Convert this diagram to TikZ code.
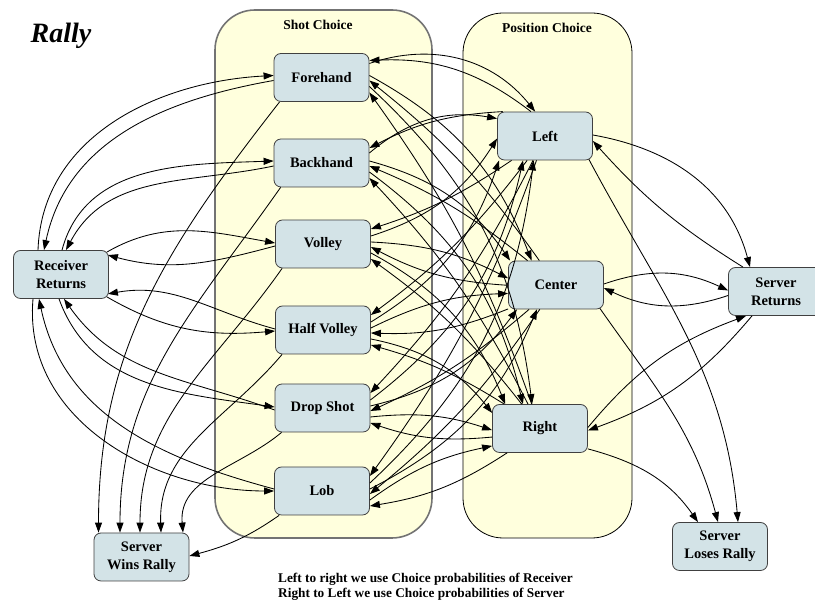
\documentclass[tikz,border=0pt]{standalone}
\usepackage{fontspec}
\setmainfont{Liberation Serif}
\usetikzlibrary{arrows.meta}
\definecolor{clusterfill}{RGB}{255,255,221}
\definecolor{statefill}{RGB}{211,227,231}
\definecolor{stateline}{RGB}{64,64,64}
\begin{document}
\begin{tikzpicture}[x=1pt,y=1pt,
  state/.style={draw=stateline, fill=statefill, line width=0.8pt, rounded corners=7pt,
    minimum width=95pt, minimum height=48pt, align=center, inner sep=2pt,
    font=\bfseries\fontsize{14.5}{18}\selectfont},
  edge/.style={-{Triangle[length=10pt,width=7pt]}, line width=0.85pt, black},
  clabel/.style={font=\bfseries\fontsize{13.5}{16}\selectfont, inner sep=0pt},
  notefont/.style={font=\bfseries\fontsize{13.3}{15}\selectfont, inner sep=0pt},
  shotbox/.style={fill=clusterfill, draw=black!55, line width=1.6pt, rounded corners=40pt},
  posbox/.style={fill=clusterfill, draw=black, line width=0.8pt, rounded corners=40pt}]
\clip (0,0) rectangle (815,604);

% clusters
\draw[shotbox] (215,66) rectangle (432,594);
\draw[posbox] (463,66) rectangle (632,591);
\node[clabel] (shotlabel) at (318,579) {Shot Choice};
\node[clabel] (poslabel) at (547,576) {Position Choice};

% title and note
\node[font=\bfseries\itshape\fontsize{28}{32}\selectfont, anchor=base, inner sep=0pt] (title) at (61,561) {Rally};
\node[notefont, anchor=base west] (note1) at (278,21) {Left to right we use Choice probabilities of Receiver};
\node[notefont, anchor=base west] (note2) at (278,6) {Right to Left we use Choice probabilities of Server};

% states
\node[state] (rr) at (61,329.5) {Receiver\\Returns};
\node[state] (fh) at (321.5,526.5) {Forehand};
\node[state] (bh) at (321.5,441) {Backhand};
\node[state] (vo) at (323,360) {Volley};
\node[state] (hv) at (323,274) {Half Volley};
\node[state] (ds) at (322.5,196) {Drop Shot};
\node[state] (lob) at (322,113) {Lob};
\node[state] (pl) at (545,468) {Left};
\node[state] (pc) at (556,319) {Center};
\node[state] (pr) at (540,175.5) {Right};
\node[state] (sr) at (776,312.5) {Server\\Returns};
\node[state] (swr) at (141.5,47) {Server\\Wins Rally};
\node[state] (slr) at (720,57.5) {Server\\Loses Rally};

% receiver returns <-> shots
\draw[edge] ([xshift=-23pt]rr.north) to[out=88,in=183] ([yshift=2pt]fh.west);
\draw[edge] ([yshift=-3pt]fh.west) to[out=190,in=78] ([xshift=-17pt]rr.north);
\draw[edge] ([xshift=1pt]rr.north) to[out=75,in=182] ([yshift=2pt]bh.west);
\draw[edge] ([yshift=-3pt]bh.west) to[out=192,in=62] ([xshift=5pt]rr.north);
\draw[edge] ([shift={(-2pt,-2pt)}]rr.north east) to[out=30,in=170] ([yshift=1pt]vo.west);
\draw[edge] ([yshift=-2pt]vo.west) to[out=195,in=-15] ([shift={(-1pt,-5pt)}]rr.north east);
\draw[edge] ([shift={(-2pt,2pt)}]rr.south east) to[out=-30,in=185] ([yshift=-1pt]hv.west);
\draw[edge] ([yshift=1pt]hv.west) to[out=165,in=10] ([shift={(-1pt,5pt)}]rr.south east);
\draw[edge] ([xshift=-2pt]rr.south) to[out=-70,in=172] ([yshift=1pt]ds.west);
\draw[edge] ([yshift=-2pt]ds.west) to[out=160,in=-55] ([xshift=3pt]rr.south);
\draw[edge] ([xshift=-28pt]rr.south) to[out=-95,in=180] (lob.west);
\draw[edge] ([yshift=2pt]lob.west) to[out=165,in=-78] ([xshift=-22pt]rr.south);

% shots -> server wins rally
\draw[edge] ([xshift=6pt]fh.south west) to[out=232,in=90] ([xshift=-43pt]swr.north);
\draw[edge] ([xshift=7pt]bh.south west) to[out=235,in=90] ([xshift=-21.5pt]swr.north);
\draw[edge] ([xshift=7pt]vo.south west) to[out=235,in=90] ([xshift=-1.5pt]swr.north);
\draw[edge] ([xshift=7pt]hv.south west) to[out=230,in=92] ([xshift=19.5pt]swr.north);
\draw[edge] ([xshift=7pt]ds.south west) to[out=220,in=95] ([xshift=41.5pt]swr.north);
\draw[edge] ([xshift=5pt]lob.south west) to[out=215,in=15] ([yshift=1pt]swr.east);

% shots <-> positions: forehand and backhand to left arc over the top
\draw[edge] ([yshift=14pt]fh.east) to[bend left=35] (pl.112);
\draw[edge] (pl.120) to[bend right=20] ([yshift=17pt]fh.east);
\draw[edge] ([yshift=10pt]bh.east) to[bend left=25] (pl.160);
\draw[edge] (pl.150) to[bend right=12] ([yshift=15pt]bh.east);
% the remaining pairs leave and enter the shots on their right side;
% shot/position/target anchor/start offset/end offset/bend out/bend back
\foreach \s/\p/\t/\so/\eo/\a/\b in {
    vo/pl/183/8/15/-20/8, hv/pl/208/8/15/-20/8, ds/pl/228/8/15/-20/8, lob/pl/245/8/15/-20/8,
    fh/pc/135/2/-3/20/-8, bh/pc/152/2/-3/20/-8, vo/pc/172/2/-3/12/12, hv/pc/190/2/-3/12/12,
    ds/pc/212/2/-3/-20/8, lob/pc/232/2/-3/-20/8,
    fh/pr/108/-9/-15/20/-8, bh/pr/125/-9/-15/20/-8, vo/pr/145/-9/-15/20/-8, hv/pr/162/-9/-15/20/-8,
    ds/pr/182/-9/-15/12/12, lob/pr/200/-9/-15/12/12} {
  \draw[edge] ([yshift=\so pt]\s.east) to[bend left=\a] (\p.\t);
  \draw[edge] (\p) to[bend left=\b] ([yshift=\eo pt]\s.east);
}

% positions <-> server returns
\draw[edge] ([yshift=1pt]pl.east) to[out=-10,in=105] ([xshift=-26pt]sr.north);
\draw[edge] ([xshift=-33pt]sr.north) to[bend left=8] ([yshift=-5pt]pl.east);
\draw[edge] ([yshift=1pt]pc.east) to[bend left=22] ([yshift=1pt]sr.west);
\draw[edge] ([yshift=-4pt]sr.west) to[bend left=22] ([yshift=-3pt]pc.east);
\draw[edge] ([yshift=1pt]pr.east) to[bend left=15] ([xshift=-30pt]sr.south);
\draw[edge] ([xshift=-24pt]sr.south) to[bend left=15] ([yshift=-2pt]pr.east);

% positions -> server loses rally
\draw[edge] ([shift={(-4pt,1pt)}]pl.south east) to[out=-62,in=95] ([xshift=18pt]slr.north);
\draw[edge] ([shift={(-4pt,1pt)}]pc.south east) to[out=-55,in=105] ([xshift=-2pt]slr.north);
\draw[edge] ([yshift=4pt]pr.south east) to[out=-15,in=125] ([xshift=-22pt]slr.north);
\end{tikzpicture}
\end{document}
